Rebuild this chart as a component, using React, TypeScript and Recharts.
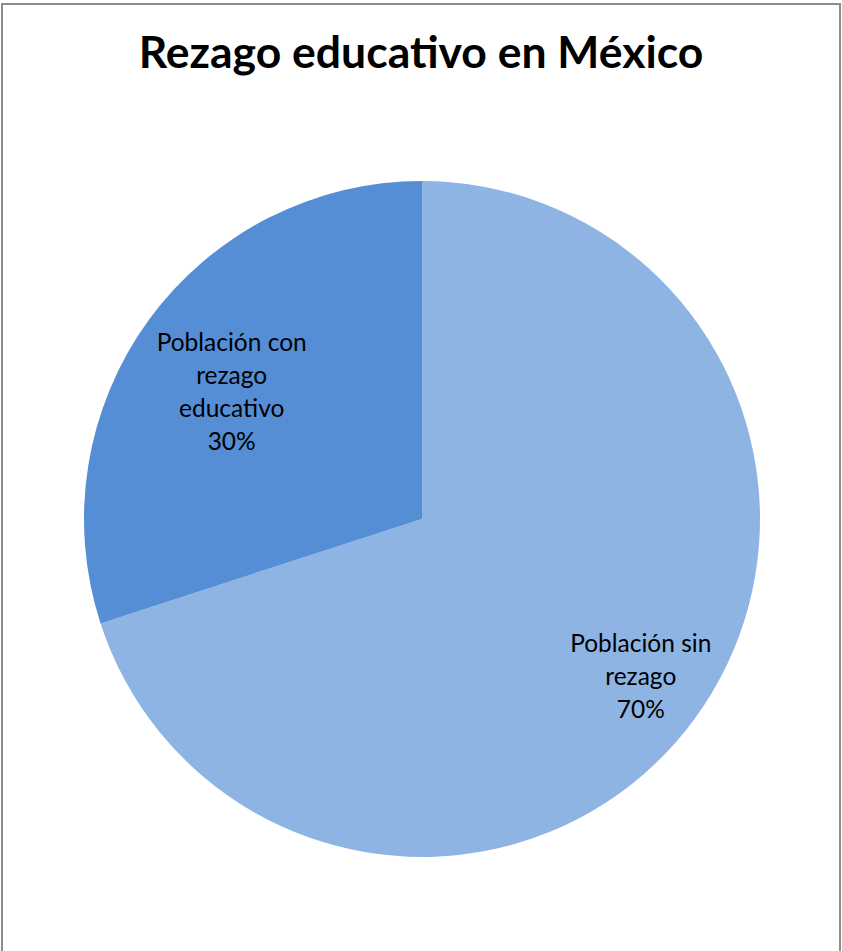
import { PieChart, Pie, Cell } from "recharts";

const categories = ["Población sin rezago", "Población con rezago educativo"];
const values = [70, 30];
const labelLines = [
  ["Población sin", "rezago", "70%"],
  ["Población con", "rezago", "educativo", "30%"],
];
const colors = ["#8EB4E3", "#558ED5"];

const data = categories.map((name, i) => ({ name, value: values[i] }));

const RADIAN = Math.PI / 180;
// Excel puts labels at slightly different depths, nudged a little
const labelDepth = [0.8, 0.685];
const labelNudge = [
  [0, -3],
  [-3, 8],
];
const FONT = "Lato, 'Open Sans', sans-serif";

const renderLabel = (props: any) => {
  const { cx, cy, midAngle, outerRadius, index } = props;
  const r = outerRadius * labelDepth[index];
  const x = cx + r * Math.cos(-midAngle * RADIAN) + labelNudge[index][0];
  const y = cy + r * Math.sin(-midAngle * RADIAN) + labelNudge[index][1];
  const lines = labelLines[index];
  const lh = 33;
  const top = y - ((lines.length - 1) * lh) / 2;
  return (
    <text
      x={x}
      y={top}
      textAnchor="middle"
      dominantBaseline="central"
      fill="#000"
      fontSize={24.5}
      fontFamily={FONT}
    >
      {lines.map((l, i) => (
        <tspan key={i} x={x} dy={i === 0 ? 0 : lh}>
          {l}
        </tspan>
      ))}
    </text>
  );
};

export default function App() {
  return (
    <div
      style={{
        position: "absolute",
        left: 0,
        top: 0,
        width: 842,
        height: 951,
        overflow: "hidden",
        background: "#fff",
      }}
    >
      <div
        style={{
          position: "absolute",
          left: 1,
          top: 3,
          width: 836,
          height: 960,
          border: "2px solid #8c8c8c",
        }}
      />
      <div
        style={{
          position: "absolute",
          left: 0,
          top: 24,
          width: 842,
          textAlign: "center",
          fontFamily: FONT,
          fontWeight: "bold",
          fontSize: 44.5,
          color: "#000",
        }}
      >
        Rezago educativo en México
      </div>
      <div style={{ position: "absolute", left: 0, top: 0 }}>
        <PieChart
          width={842}
          height={951}
          margin={{ top: 0, right: 0, bottom: 0, left: 0 }}
        >
          <Pie
            data={data}
            dataKey="value"
            nameKey="name"
            cx={422}
            cy={519}
            outerRadius={338}
            startAngle={90}
            endAngle={-270}
            stroke="none"
            label={renderLabel}
            labelLine={false}
            isAnimationActive={false}
          >
            {data.map((d, i) => (
              <Cell key={d.name} fill={colors[i]} />
            ))}
          </Pie>
        </PieChart>
      </div>
    </div>
  );
}
